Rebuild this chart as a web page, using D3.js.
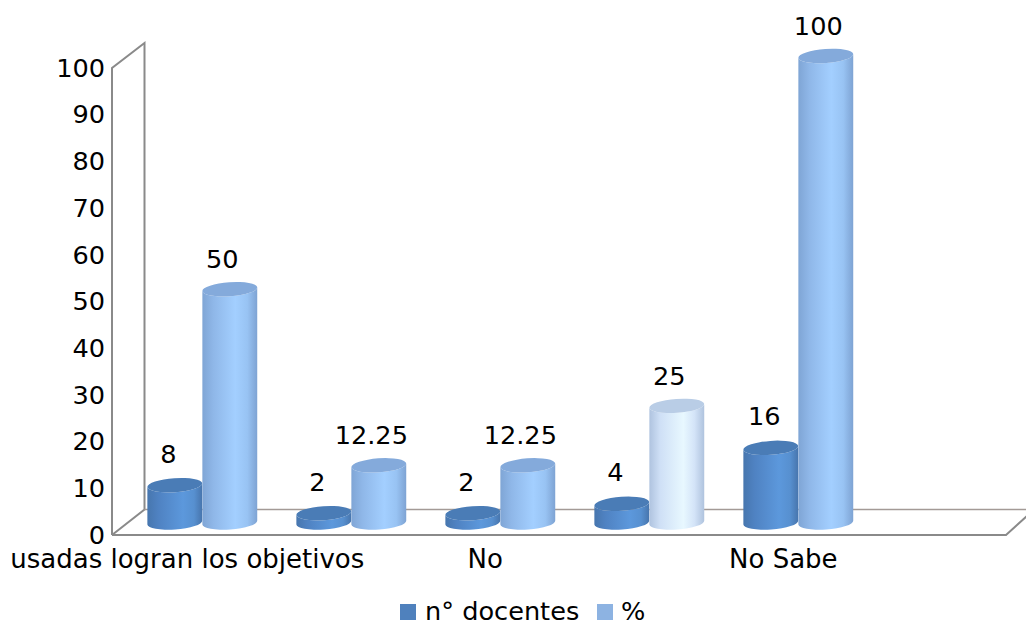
<!DOCTYPE html>
<html><head><meta charset="utf-8">
<script src="https://cdn.jsdelivr.net/npm/d3@7/dist/d3.min.js"></script>
<style>html,body{margin:0;padding:0;background:#fff}svg{display:block}text{font-family:"DejaVu Sans",sans-serif;fill:#000}</style>
</head><body><script>
const categories = ["usadas logran los objetivos", "", "No", "", "No Sabe"];
const seriesNames = ["n° docentes", "%"];
const docentes = [8, 2, 2, 4, 16];
const porcentaje = [50, 12.25, 12.25, 25, 100];
const percentLabels = ["50", "12.25", "12.25", "25", "100"];
const yTicks = [0,10,20,30,40,50,60,70,80,90,100];
const pale = [false,false,false,true,false];

const W=1026,H=623,FS=25.6;
const svg=d3.select("body").append("svg").attr("width",W).attr("height",H);
const defs=svg.append("defs");
function grad(id,stops){
  const g=defs.append("linearGradient").attr("id",id).attr("x1","0").attr("x2","1").attr("y1","0").attr("y2","0");
  stops.forEach(([o,c])=>g.append("stop").attr("offset",o).attr("stop-color",c));
}
grad("gDark",[[0,"#4776ae"],[.2,"#4f82c2"],[.65,"#5c98dc"],[.85,"#5790d0"],[1,"#4775ad"]]);
grad("gLight",[[0,"#7fa5d5"],[.2,"#8fb7e8"],[.6,"#a3cfff"],[.82,"#98c3f3"],[1,"#7ea3d3"]]);
grad("gPale",[[0,"#afc3df"],[.2,"#cfe0f6"],[.62,"#e8f8ff"],[.82,"#d4e4f8"],[1,"#afc3de"]]);
const styles={dark:{b:"url(#gDark)",t:"#4a7cb6"},light:{b:"url(#gLight)",t:"#84aadb"},pale:{b:"url(#gPale)",t:"#b9cde6"}};

// axis scale (front wall) and column scale (mid-depth plane)
const yAxis=d3.scaleLinear().domain([0,100]).range([535,68]);
const yCol=d3.scaleLinear().domain([0,100]).range([522.5,56]);
const xBand=d3.scaleBand().domain(d3.range(categories.length)).range([127.8,872.8]);
const depthLabelShift=-15;

// walls + floor
const wall="#8a8a8a";
const backTop=43, backBottom=509.5;
svg.append("path").attr("fill","none").attr("stroke",wall).attr("stroke-width",2)
  .attr("d",`M112,${yAxis(0)}L112,${yAxis(100)}L144.5,${backTop}L144.5,${backBottom}L112,${yAxis(0)}`);
svg.append("path").attr("fill","none").attr("stroke","#a39a96").attr("stroke-width",1.4)
  .attr("d",`M144.5,${backBottom}L1026,${backBottom}`);
svg.append("path").attr("fill","none").attr("stroke",wall).attr("stroke-width",2)
  .attr("d",`M112,${yAxis(0)}L1006,${yAxis(0)}L1027,${yAxis(0)-19}`);

// y axis
const ax=svg.append("g").attr("transform","translate(112,0)")
  .call(d3.axisLeft(yAxis).tickValues(yTicks).tickSize(0).tickPadding(7));
ax.select(".domain").remove();
ax.selectAll("text").attr("font-size",FS).attr("font-family",'"DejaVu Sans"').attr("fill","#000");

// cylinders
const rx=27.5,ry=7,ang=-4*Math.PI/180,dx=rx*Math.cos(ang),dy=rx*Math.sin(ang);
function cyl(g,cx,v,st){
  const yb=yCol(0),yt=yCol(v);
  g.append("path").attr("fill",st.b)
   .attr("d",`M${cx-dx},${yt-dy}L${cx-dx},${yb-dy}A${rx},${ry} -4 0 0 ${cx+dx},${yb+dy}L${cx+dx},${yt+dy}A${rx},${ry} -4 0 1 ${cx-dx},${yt-dy}Z`);
  g.append("ellipse").attr("cx",cx).attr("cy",yt).attr("rx",rx).attr("ry",ry)
   .attr("transform",`rotate(-4 ${cx} ${yt})`).attr("fill",st.t);
}
const bars=svg.append("g");
const labels=svg.append("g").attr("font-size",FS).attr("text-anchor","middle");
categories.forEach((c,i)=>{
  const mid=xBand(i)+xBand.bandwidth()/2;
  const c1=mid-27.5,c2=mid+27.5;
  cyl(bars,c1,docentes[i],styles.dark);
  cyl(bars,c2,porcentaje[i],pale[i]?styles.pale:styles.light);
  labels.append("text").attr("x",c1-6.5).attr("y",yCol(docentes[i])-22.5).text(docentes[i]);
  labels.append("text").attr("x",c2-7.5).attr("y",yCol(porcentaje[i])-21).text(percentLabels[i]);
  if(c) svg.append("text").attr("x",mid+depthLabelShift).attr("y",568).attr("font-size",26)
    .attr("text-anchor","middle").text(c);
});

// legend
const legX=[400,597],legT=[425,621];
const legColors=["#4f81bd","#8db3e2"];
seriesNames.forEach((n,i)=>{
  svg.append("rect").attr("x",legX[i]).attr("y",604).attr("width",16).attr("height",16).attr("fill",legColors[i]);
  svg.append("text").attr("x",legT[i]).attr("y",620).attr("font-size",FS).text(n);
});
</script></body></html>
